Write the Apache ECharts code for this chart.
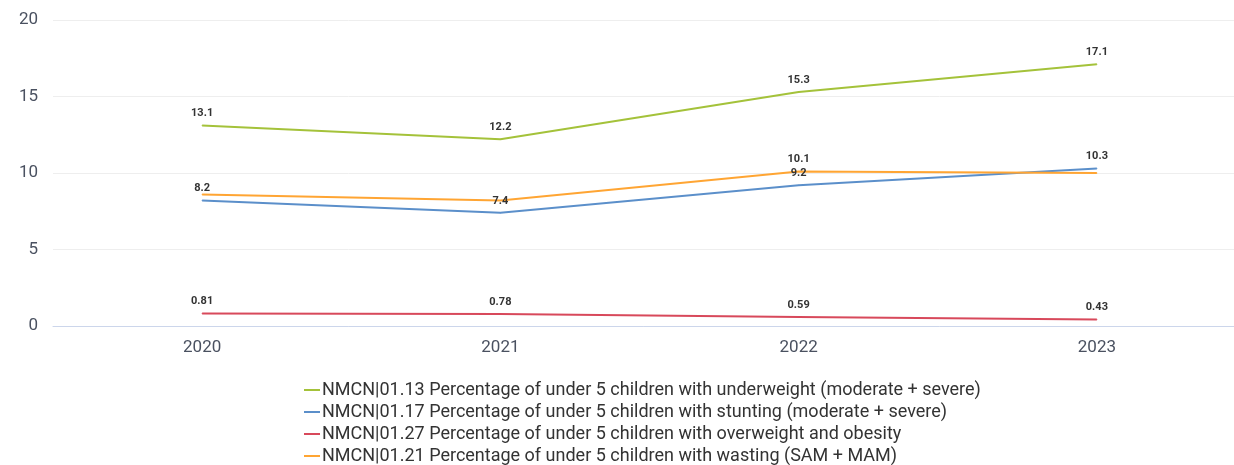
<!DOCTYPE html>
<html>
<head>
<meta charset="utf-8">
<title>Child nutrition indicators</title>
<script src="https://cdn.jsdelivr.net/npm/echarts@6/dist/echarts.min.js"></script>
<style>
  html, body { margin: 0; padding: 0; background: #fff; }
  #chart { width: 1234px; height: 465px; }
</style>
</head>
<body>
<div id="chart"></div>
<script>
// Survey years on the x axis
const years = ['2020', '2021', '2022', '2023'];

// Indicator values (%)
const underweight = [13.1, 12.2, 15.3, 17.1];
const stunting = [8.2, 7.4, 9.2, 10.3];
const overweight = [0.81, 0.78, 0.59, 0.43];
const wasting = [8.6, 8.2, 10.1, 10.0];

const seriesNames = [
  'NMCN|01.13 Percentage of under 5 children with underweight (moderate + severe)',
  'NMCN|01.17 Percentage of under 5 children with stunting (moderate + severe)',
  'NMCN|01.27 Percentage of under 5 children with overweight and obesity',
  'NMCN|01.21 Percentage of under 5 children with wasting (SAM + MAM)'
];
const seriesColors = ['#a4c23a', '#5b8fca', '#d8495b', '#ffa533'];
const seriesData = [underweight, stunting, overweight, wasting];

const chart = echarts.init(document.getElementById('chart'), null, { renderer: 'canvas' });

chart.setOption({
  animation: false,
  backgroundColor: '#ffffff',
  textStyle: { fontFamily: 'Roboto' },
  // plot area runs past the right edge of the canvas
  grid: { left: 53, right: -12, top: 20, bottom: 139, containLabel: false, outerBoundsMode: 'none' },
  legend: {
    orient: 'vertical',
    left: 299,
    top: 376,
    height: 300,
    itemWidth: 16,
    itemHeight: 2,
    itemGap: 4,
    icon: 'rect',
    textStyle: { fontSize: 18, color: '#333333', fontFamily: 'Roboto', padding: [0, 0, 0, -3] },
    data: seriesNames
  },
  xAxis: {
    type: 'category',
    data: years,
    boundaryGap: true,
    axisLine: { show: true, lineStyle: { color: '#ccd6eb', width: 1 } },
    axisTick: { show: false },
    axisLabel: { fontSize: 17, color: '#4a5160', margin: 13 }
  },
  yAxis: {
    type: 'value',
    min: 0,
    max: 20,
    interval: 5,
    axisLine: { show: false },
    axisTick: { show: false },
    splitLine: { lineStyle: { color: '#eeeeee', width: 1 } },
    axisLabel: { fontSize: 17, color: '#4a5160', margin: 15 }
  },
  series: seriesData.map((d, i) => ({
    name: seriesNames[i],
    type: 'line',
    data: d,
    color: seriesColors[i],
    symbol: 'circle',
    symbolSize: 1,
    showSymbol: true,
    lineStyle: { width: 2 },
    label: {
      show: true,
      position: 'top',
      distance: 5,
      fontSize: 11,
      lineHeight: 13,
      fontWeight: 'bold',
      color: '#333333'
    },
    labelLayout: { hideOverlap: true }
  }))
});
</script>
</body>
</html>
